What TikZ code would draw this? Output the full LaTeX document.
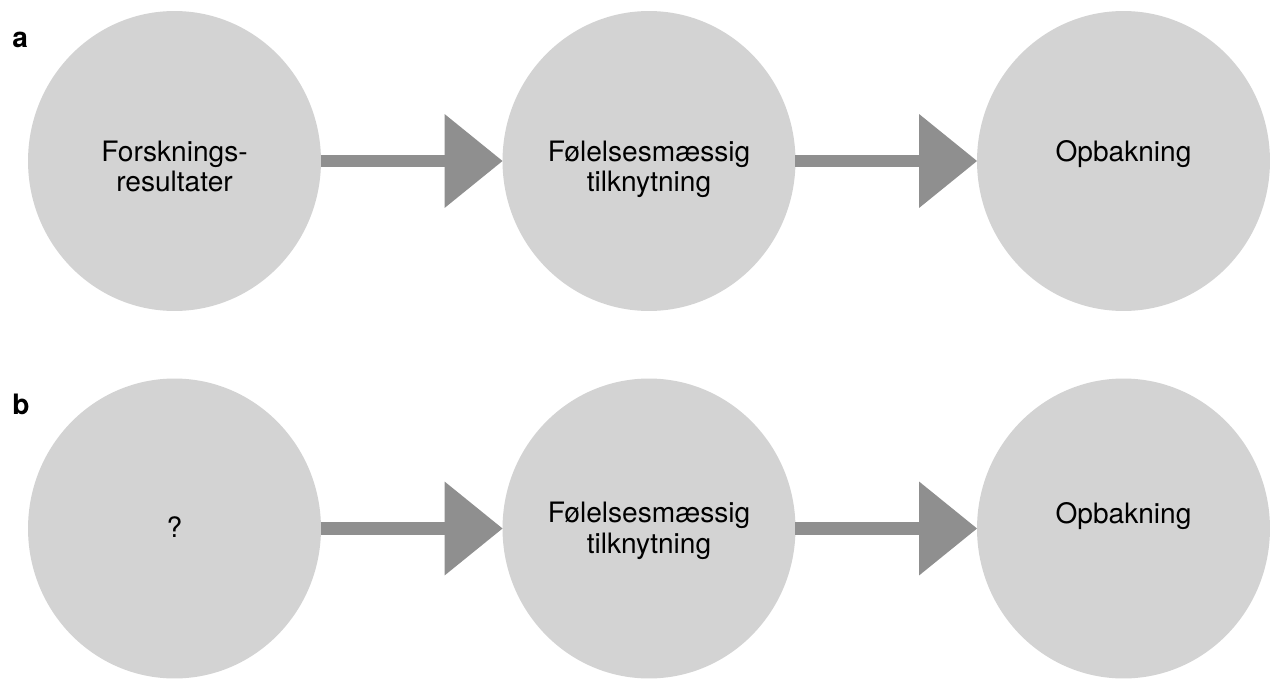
\documentclass[tikz,border=0pt]{standalone}
\usepackage{fontspec}
\setmainfont{TeX Gyre Heros}
\usetikzlibrary{shapes.geometric,arrows.meta}
\definecolor{bubblegray}{RGB}{211,211,211}
\definecolor{arrowgray}{RGB}{143,143,143}

\begin{document}
\begin{tikzpicture}[x=0.02cm, y=-0.02cm,
        bubble/.style={ellipse, fill=bubblegray, minimum width=5.86cm, minimum height=6.0cm, inner sep=0pt, outer sep=0pt},
        txt/.style={anchor=base, align=center, inner sep=0pt, font=\fontsize{16}{17.6}\selectfont},
        panel/.style={anchor=base west, inner sep=0pt, font=\fontsize{16}{18}\selectfont\bfseries},
        flow/.style={arrowgray, line width=0.26cm, -{Triangle[length=1.16cm, width=1.88cm, line width=0pt 0]}}]
        \useasboundingbox (0, 0) rectangle (1271, 679);
        % row a
        \node[panel] (la) at (12, 48) {a};
        \node[bubble] (a1) at (174.5, 161) {};
        \node[bubble] (a2) at (649, 161) {};
        \node[bubble] (a3) at (1123.5, 161) {};
        \node[txt] (ta1) at (174.5, 192) {Forsknings-\\resultater};
        \node[txt] (ta2) at (649, 192) {Følelsesmæssig\\tilknytning};
        \node[txt] (ta3) at (1123.5, 161) {Opbakning};
        \draw[flow] (a1) -- (a2);
        \draw[flow] (a2) -- (a3);
        % row b
        \node[panel] (lb) at (12, 414) {b};
        \node[bubble] (b1) at (174.5, 528.5) {};
        \node[bubble] (b2) at (649, 528.5) {};
        \node[bubble] (b3) at (1123.5, 528.5) {};
        \node[txt] (tb1) at (174.5, 537) {?};
        \node[txt] (tb2) at (649, 553) {Følelsesmæssig\\tilknytning};
        \node[txt] (tb3) at (1123.5, 523) {Opbakning};
        \draw[flow] (b1) -- (b2);
        \draw[flow] (b2) -- (b3);
    \end{tikzpicture}
\end{document}
